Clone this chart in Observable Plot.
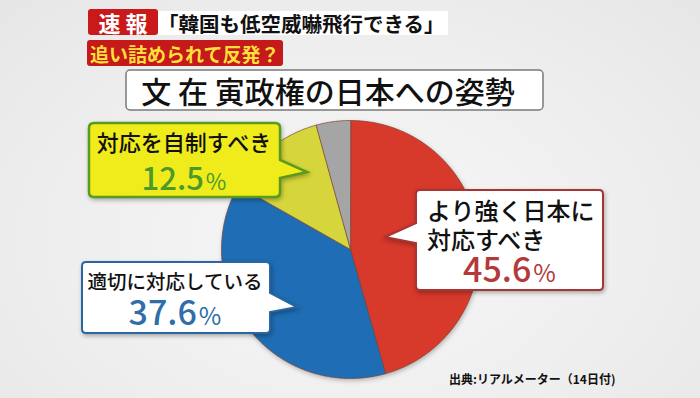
<!DOCTYPE html>
<html><head><meta charset="utf-8">
<script src="https://cdn.jsdelivr.net/npm/d3@7"></script>
<script src="https://cdn.jsdelivr.net/npm/@observablehq/plot@0.6"></script>
<style>
html,body{margin:0;padding:0;background:#ededed;}
#wrap{position:relative;width:700px;height:398px;overflow:hidden;
 background:radial-gradient(ellipse at 50% 60%, #f7f7f7 0%, #eeeeee 60%, #e6e6e6 100%);
 font-family:"Noto Sans CJK JP","Noto Sans",sans-serif;}
.abs{position:absolute;white-space:nowrap;}
#plot{position:absolute;left:0;top:0;}
#plot svg g[aria-label="line"]{filter:drop-shadow(1px 2px 2px rgba(0,0,0,0.25));}
#shapes{position:absolute;left:0;top:0;}
.pct{font-weight:500;line-height:0;position:relative;}
.pct small{font-size:0.72em;font-weight:400;margin-left:2px;}
</style></head>
<body>
<div id="wrap">
  <div id="plot"></div>
  <svg id="shapes" width="700" height="398"></svg>
</div>
<script>
// ---- data ----
const categories = ["より強く日本に対応すべき", "適切に対応している", "対応を自制すべき", "その他"];
const labelLines = [["より強く日本に", "対応すべき"], ["適切に対応している"], ["対応を自制すべき"], []];
const values = [45.6, 37.6, 12.5, 4.3];
const colors = ["#d7392b", "#1f6db4", "#d6d63c", "#a5a5a5"];
const titleText = "文 在 寅政権の日本への姿勢";
const flashLabel = "速 報";
const headline = "「韓国も低空威嚇飛行できる」";
const subhead = "追い詰められて反発？";
const sourceText = "出典:リアルメーター（14日付)";

// ---- layout ----
const cx = 350, cy = 249, r = 129;
const wrap = document.getElementById("wrap");

// pie polygons from d3.pie
const arcs = d3.pie().sort(null).value(d => d)(values);
const pts = [];
arcs.forEach((a, i) => {
  pts.push({x: 0, y: 0, k: categories[i]});
  const n = Math.max(2, Math.ceil((a.endAngle - a.startAngle) / 0.01));
  for (let j = 0; j <= n; j++) {
    const t = a.startAngle + (a.endAngle - a.startAngle) * j / n;
    pts.push({x: Math.sin(t), y: Math.cos(t), k: categories[i]});
  }
});

const chart = Plot.plot({
  width: 700, height: 398, margin: 0,
  x: {domain: [-1, 1], range: [cx - r, cx + r], axis: null},
  y: {domain: [-1, 1], range: [cy + r, cy - r], axis: null},
  color: {domain: categories, range: colors},
  style: {background: "transparent", overflow: "visible"},
  marks: [
    Plot.line(pts, {x: "x", y: "y", z: "k", fill: "k", stroke: "#7c3f2c", strokeOpacity: 0.7, strokeWidth: 1, curve: "linear-closed"})
  ]
});
document.getElementById("plot").appendChild(chart);

// ---- decorations ----
const svg = d3.select("#shapes");
function callout(x0, y0, x1, y1, rad, side, b0, b1, tx, ty) {
  const p = d3.path();
  p.moveTo(x0 + rad, y0);
  p.lineTo(x1 - rad, y0);
  p.quadraticCurveTo(x1, y0, x1, y0 + rad);
  if (side === "right") { p.lineTo(x1, b0); p.lineTo(tx, ty); p.lineTo(x1, b1); }
  p.lineTo(x1, y1 - rad);
  p.quadraticCurveTo(x1, y1, x1 - rad, y1);
  p.lineTo(x0 + rad, y1);
  p.quadraticCurveTo(x0, y1, x0, y1 - rad);
  if (side === "left") { p.lineTo(x0, b1); p.lineTo(tx, ty); p.lineTo(x0, b0); }
  p.lineTo(x0, y0 + rad);
  p.quadraticCurveTo(x0, y0, x0 + rad, y0);
  p.closePath();
  return p.toString();
}
const shadow = "drop-shadow(1px 2px 2px rgba(0,0,0,0.3))";
// header boxes
svg.append("rect").attr("x", 158).attr("y", 11).attr("width", 290).attr("height", 24).attr("fill", "#ffffff");
svg.append("rect").attr("x", 88).attr("y", 9).attr("width", 70).attr("height", 26).attr("rx", 3).attr("fill", "#c9191b");
svg.append("rect").attr("x", 87).attr("y", 40).attr("width", 196).attr("height", 26).attr("rx", 3).attr("fill", "#c41a1a");
svg.append("rect").attr("x", 126).attr("y", 70).attr("width", 417).attr("height", 40).attr("rx", 4)
  .attr("fill", "#ffffff").attr("stroke", "#7a7a7a").attr("stroke-width", 1.5);
// callouts
svg.append("path").attr("d", callout(89, 123, 280, 197, 5, "right", 160, 178, 307, 172))
  .attr("fill", "#f0ec1c").attr("stroke", "#5a9a1e").attr("stroke-width", 2.5).style("filter", shadow);
svg.append("path").attr("d", callout(416, 190, 603, 290, 4, "left", 223, 243, 385, 237))
  .attr("fill", "#ffffff").attr("stroke", "#a93434").attr("stroke-width", 2).style("filter", shadow);
svg.append("path").attr("d", callout(82, 262, 270, 333, 4, "right", 293, 312, 297, 307))
  .attr("fill", "#ffffff").attr("stroke", "#2a67a0").attr("stroke-width", 2).style("filter", shadow);

function text(str, opts) {
  const d = document.createElement("div");
  d.className = "abs";
  const lh = opts.size * 1.0;
  d.style.fontSize = opts.size + "px";
  d.style.lineHeight = lh + "px";
  d.style.top = (opts.cy - lh / 2) + "px";
  d.style.color = opts.color || "#111";
  d.style.fontWeight = opts.weight || 400;
  if (opts.cx !== undefined) { d.style.left = opts.cx + "px"; d.style.transform = "translateX(-50%)"; }
  else d.style.left = opts.x + "px";
  d.textContent = str;
  wrap.appendChild(d);
  return d;
}

// one text block per callout: label lines then the percentage line
function labelBlock(lines, value, o) {
  const d = document.createElement("div");
  d.className = "abs";
  d.style.fontSize = o.size + "px";
  d.style.lineHeight = o.lh + "px";
  d.style.fontWeight = 500;
  d.style.color = "#111";
  const top = o.cy - o.lh / 2 - 0.056 * o.size;
  d.style.top = top + "px";
  if (o.cx !== undefined) { d.style.left = o.cx + "px"; d.style.transform = "translateX(-50%)"; d.style.textAlign = "center"; }
  else d.style.left = o.x + "px";
  const n = lines.length;
  const baseline = top + n * o.lh + o.lh / 2 + 0.436 * o.size;
  const shift = o.pcy - (baseline - 0.365 * o.psize);
  d.innerHTML = lines.join("<br>") +
    `<br><span class="pct" style="font-size:${o.psize}px;color:${o.pcolor};top:${shift}px;margin-left:${o.pdx || 0}px">${value.toFixed(1)}<small>%</small></span>`;
  wrap.appendChild(d);
}

text(flashLabel, {cx: 123, cy: 22, size: 22, color: "#ffffff", weight: 700});
text(headline, {x: 158, cy: 23, size: 20.5, color: "#111", weight: 700});
text(subhead, {x: 90, cy: 53, size: 19, color: "#ffdf3a", weight: 700});
text(titleText, {cx: 328, cy: 90, size: 30, color: "#111", weight: 500});

labelBlock(labelLines[0], values[0], {x: 427, cy: 211, size: 24, lh: 29.5, psize: 34, pcy: 270, pcolor: "#b3393a", pdx: 36});
labelBlock(labelLines[1], values[1], {cx: 175, cy: 282, size: 19.5, lh: 31, psize: 34, pcy: 313, pcolor: "#2f6ea9"});
labelBlock(labelLines[2], values[2], {cx: 184, cy: 142, size: 22, lh: 36, psize: 31, pcy: 178, pcolor: "#4b9a2a"});

text(sourceText, {x: 449, cy: 379, size: 12, color: "#111", weight: 700});
</script>
</body></html>
